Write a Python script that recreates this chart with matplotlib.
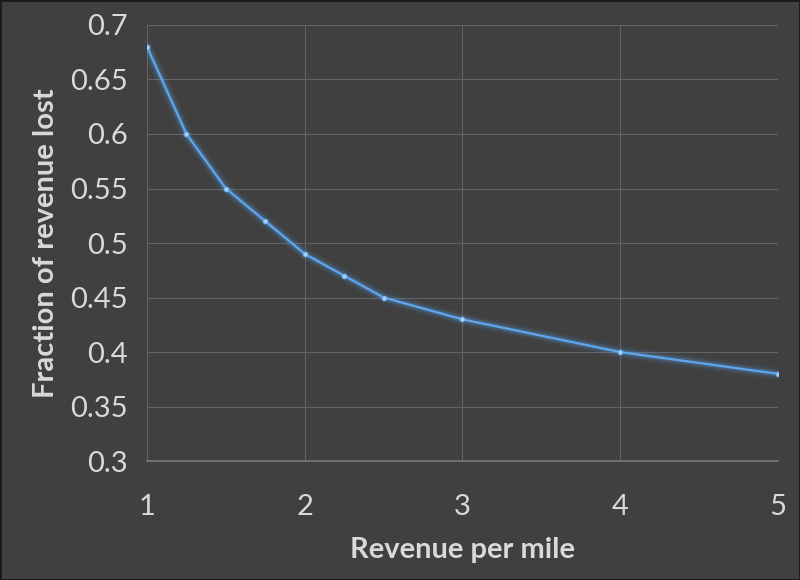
import matplotlib
matplotlib.use('Agg')
import matplotlib.pyplot as plt

# datos
revenue_per_mile = [1, 1.25, 1.5, 1.75, 2, 2.25, 2.5, 3, 4, 5]
fraction_lost = [0.68, 0.60, 0.55, 0.52, 0.49, 0.47, 0.45, 0.43, 0.40, 0.38]
x_ticks = [1, 2, 3, 4, 5]
y_ticks = [0.3, 0.35, 0.4, 0.45, 0.5, 0.55, 0.6, 0.65, 0.7]

bg = '#404040'
text_col = '#d9d9d9'
line_col = '#5ea7f0'

plt.rcParams['font.family'] = ['Lato', 'DejaVu Sans']

fig = plt.figure(figsize=(8, 5.8), dpi=100, facecolor=bg)
ax = fig.add_axes([0.18375, 0.205, 0.78875, 0.752])
ax.set_facecolor(bg)

# brillo alrededor de la linea
for lw, a in [(9, 0.06), (6, 0.10), (4, 0.18)]:
    ax.plot(revenue_per_mile, fraction_lost, color=line_col, lw=lw, alpha=a,
            solid_capstyle='round', zorder=3)
ax.plot(revenue_per_mile, fraction_lost, color=line_col, lw=1.6, zorder=4,
        marker='o', markersize=3.5, markerfacecolor='#a9d2fa',
        markeredgecolor=line_col, markeredgewidth=0.6)

ax.set_xlim(1, 5)
ax.set_ylim(0.3, 0.7)
ax.set_xticks(x_ticks)
ax.set_xticklabels([str(v) for v in x_ticks])
ax.set_yticks(y_ticks)
ax.set_yticklabels([f'{v:g}' for v in y_ticks])

ax.grid(True, color='#636363', lw=0.8)
ax.set_axisbelow(True)
for side in ['top', 'right', 'left']:
    ax.spines[side].set_visible(False)
ax.spines['bottom'].set_color('#7a7a7a')
ax.spines['bottom'].set_linewidth(1.2)

ax.tick_params(length=0, labelsize=21, labelcolor=text_col)
ax.tick_params(axis='x', pad=24)
ax.tick_params(axis='y', pad=14)

ax.set_xlabel('Revenue per mile', fontsize=21, fontweight='bold',
              color=text_col, labelpad=12)
ax.set_ylabel('Fraction of revenue lost', fontsize=21, fontweight='bold',
              color=text_col, labelpad=8)

# marco fino de la figura
fig.patches.append(plt.Rectangle((0, 0), 1, 1, transform=fig.transFigure,
                                 fill=False, edgecolor='#1a1a1a', lw=2))

fig.savefig('out.png', dpi=100, facecolor=bg)
